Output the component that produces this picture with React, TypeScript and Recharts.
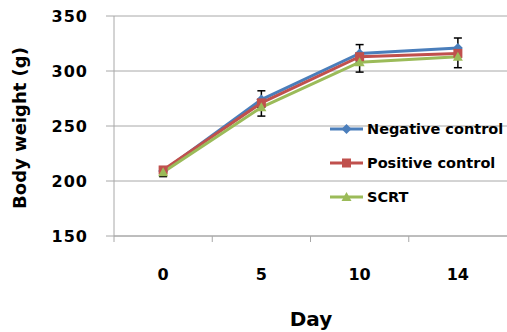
import { LineChart, Line, XAxis, YAxis, CartesianGrid, ErrorBar, Label } from "recharts";

const days = ["0", "5", "10", "14"];
const negative = [209, 274, 316, 321];
const positive = [210, 271, 313, 316];
const scrt = [208, 267, 308, 313];
const negativeErr = [[0, 4], [0, 8], [0, 8], [0, 9]];
const scrtErr = [[4, 0], [8, 0], [9, 0], [10, 0]];
const yTicks = [150, 200, 250, 300, 350];

const data = days.map((day, i) => ({
  day,
  negative: negative[i],
  positive: positive[i],
  scrt: scrt[i],
  negativeErr: negativeErr[i],
  scrtErr: scrtErr[i],
}));

const FONT = "'DejaVu Sans', Verdana, sans-serif";
const BLUE = "#4a7ebb";
const RED = "#c0504d";
const GREEN = "#9bbb59";
const GRID = "#a8a8a8";

const series = [
  { key: "negative", name: "Negative control", color: BLUE, shape: "diamond" },
  { key: "positive", name: "Positive control", color: RED, shape: "square" },
  { key: "scrt", name: "SCRT", color: GREEN, shape: "triangle" },
];

function marker(shape: string, cx: number, cy: number, color: string) {
  if (shape === "diamond") {
    return <path d={`M${cx},${cy - 5}L${cx + 5},${cy}L${cx},${cy + 5}L${cx - 5},${cy}Z`} fill={color} />;
  }
  if (shape === "square") {
    return <rect x={cx - 4.5} y={cy - 4.5} width={9} height={9} fill={color} />;
  }
  return <path d={`M${cx},${cy - 5}L${cx + 5},${cy + 4}L${cx - 5},${cy + 4}Z`} fill={color} />;
}

const makeDot = (shape: string, color: string) => (props: any) => {
  const { cx, cy, index } = props;
  if (cx == null || cy == null) return <g key={index} />;
  return <g key={index}>{marker(shape, cx, cy, color)}</g>;
};

const XTick = (props: any) => {
  const { x, y, payload } = props;
  const band = 393 / days.length;
  return (
    <g>
      <line x1={x - band / 2} x2={x - band / 2} y1={y - 6} y2={y} stroke={GRID} />
      <text x={x} y={y + 38} textAnchor="middle" fontSize={16} fontWeight="bold" fontFamily={FONT} fill="#000">
        {payload.value}
      </text>
    </g>
  );
};

const LegendBox = () => (
  <svg width={190} height={90} style={{ position: "absolute", left: 320, top: 118 }}>
    {series.map((s, i) => {
      const cy = 11 + i * 34;
      return (
        <g key={s.key}>
          <line x1={10} x2={43} y1={cy} y2={cy} stroke={s.color} strokeWidth={3} />
          {marker(s.shape, 26.5, cy, s.color)}
          <text x={47} y={cy} dominantBaseline="central" fontSize={14.5} fontWeight="bold" fontFamily={FONT} fill="#000">
            {s.name}
          </text>
        </g>
      );
    })}
  </svg>
);

export default function App() {
  return (
    <div style={{ position: "absolute", left: 0, top: 0, width: 507, height: 332 }}>
      <LineChart width={507} height={332} data={data} margin={{ top: 16, right: 0, left: 0, bottom: 0 }}>
        <CartesianGrid vertical={false} stroke={GRID} />
        <XAxis
          dataKey="day"
          scale="band"
          height={96}
          axisLine={{ stroke: GRID }}
          tickLine={false}
          tickSize={6}
          tickMargin={0}
          tick={<XTick />}
          interval={0}
        >
          <Label
            content={() => (
              <text x={311} y={326} textAnchor="middle" fontSize={20} fontWeight="bold" fontFamily={FONT} fill="#000">
                Day
              </text>
            )}
          />
        </XAxis>
        <YAxis
          width={114}
          domain={[150, 350]}
          ticks={yTicks}
          axisLine={{ stroke: GRID }}
          tickLine={{ stroke: GRID }}
          tickSize={8}
          tickMargin={18}
          tick={{ fontSize: 16, fontWeight: "bold", fontFamily: FONT, fill: "#000", letterSpacing: 1 }}
        >
          <Label
            content={() => (
              <text
                x={19}
                y={128}
                transform="rotate(-90 19 128)"
                textAnchor="middle"
                dominantBaseline="central"
                fontSize={18}
                fontWeight="bold"
                fontFamily={FONT}
                fill="#000"
              >
                Body weight (g)
              </text>
            )}
          />
        </YAxis>
        <Line
          dataKey="negative"
          name="Negative control"
          stroke={BLUE}
          strokeWidth={3}
          dot={makeDot("diamond", BLUE)}
          activeDot={false}
          isAnimationActive={false}
        >
          <ErrorBar dataKey="negativeErr" direction="y" stroke="#000" strokeWidth={1.5} width={4} />
        </Line>
        <Line
          dataKey="positive"
          name="Positive control"
          stroke={RED}
          strokeWidth={3}
          dot={makeDot("square", RED)}
          activeDot={false}
          isAnimationActive={false}
        />
        <Line
          dataKey="scrt"
          name="SCRT"
          stroke={GREEN}
          strokeWidth={3}
          dot={makeDot("triangle", GREEN)}
          activeDot={false}
          isAnimationActive={false}
        >
          <ErrorBar dataKey="scrtErr" direction="y" stroke="#000" strokeWidth={1.5} width={4} />
        </Line>
      </LineChart>
      <LegendBox />
    </div>
  );
}
